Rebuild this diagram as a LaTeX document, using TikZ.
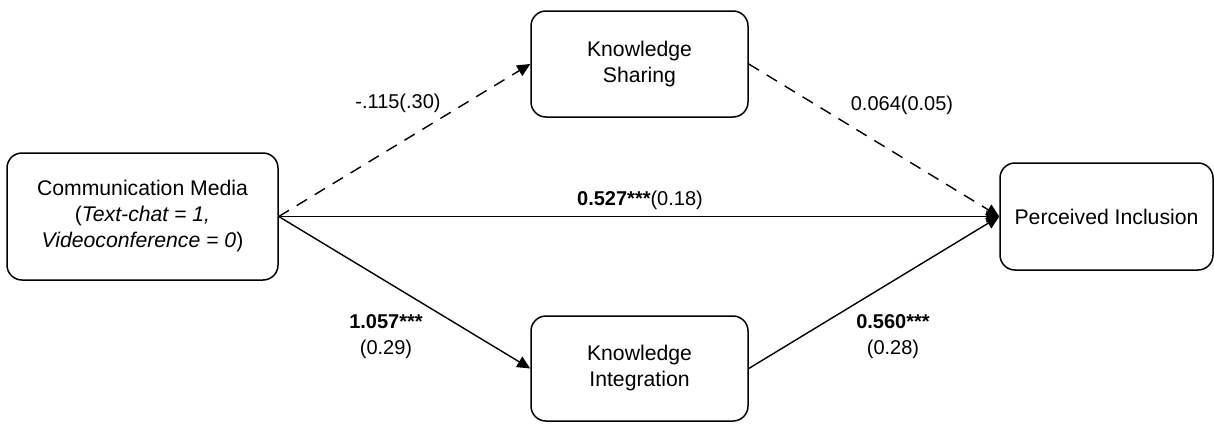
\documentclass[tikz,border=0pt]{standalone}
\usepackage{fontspec}
\setmainfont{Liberation Sans}
\usetikzlibrary{arrows.meta}
\begin{document}
\begin{tikzpicture}[x=0.5pt,y=-0.5pt,
  box/.style={draw, line width=0.75pt, rounded corners=7.5pt, align=center, font=\fontsize{10.6pt}{13pt}\selectfont, inner sep=0pt},
  conn/.style={line width=0.7pt, -{Triangle[length=6.5pt,width=6pt]}},
  dconn/.style={conn, dash pattern=on 6pt off 4.5pt},
  lbl/.style={fill=white, inner sep=1pt, align=center, font=\fontsize{10pt}{13pt}\selectfont}]
\useasboundingbox (0,0) rectangle (1214,423);
\node[box, minimum width=135.5pt, minimum height=63.5pt] (cm) at (142.5,216.5)
  {Communication Media\\(\textit{Text-chat = 1,}\\\textit{Videoconference = 0})};
\node[box, minimum width=108.5pt, minimum height=53pt] (ks) at (639.5,64) {Knowledge\\Sharing};
\node[box, minimum width=108.5pt, minimum height=52.5pt] (ki) at (639.5,368.5) {Knowledge\\Integration};
\node[box, minimum width=106.5pt, minimum height=53.5pt] (pi) at (1106.5,216.5) {Perceived Inclusion};
\draw[dconn] (cm.east) -- (ks.west);
\draw[dconn] (ks.east) -- (pi.west);
\draw[conn] (cm.east) -- (pi.west);
\draw[conn] (cm.east) -- (ki.west);
\draw[conn] (ki.east) -- (pi.west);
\node[lbl] (l1) at (398,103) {-.115(.30)};
\node[lbl] (l2) at (902,105) {0.064(0.05)};
\node[lbl] (l3) at (640,200) {\textbf{0.527***}(0.18)};
\node[lbl] (l4) at (386,337) {\textbf{1.057***}\\(0.29)};
\node[lbl] (l5) at (893,337) {\textbf{0.560***}\\(0.28)};
\end{tikzpicture}
\end{document}
